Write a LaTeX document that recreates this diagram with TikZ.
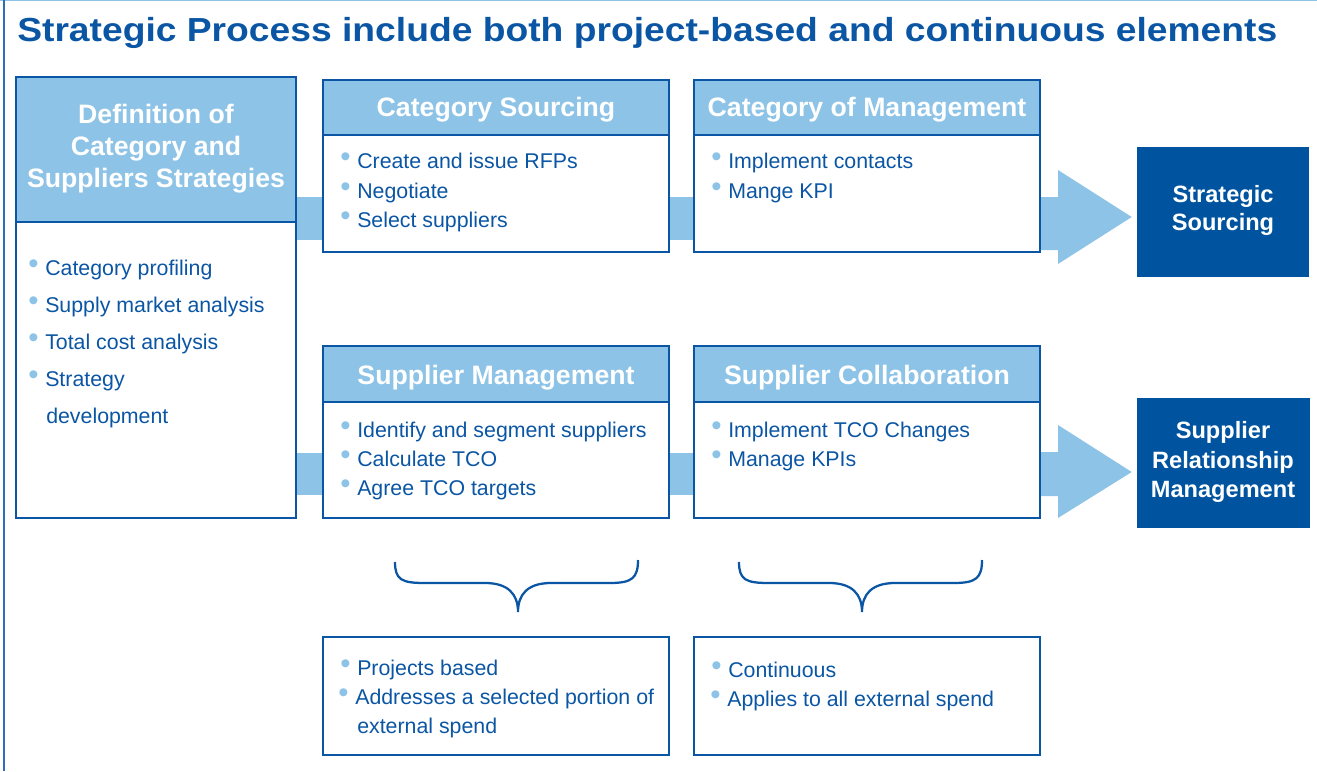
\documentclass[tikz,border=0pt]{standalone}
\usepackage{fontspec}
\setmainfont{Liberation Sans}
\usetikzlibrary{fit,calc}

\definecolor{dblue}{HTML}{0B56A4}
\definecolor{lblue}{HTML}{8DC3E6}
\definecolor{fblue}{HTML}{00549F}
\definecolor{mblue}{HTML}{2E6DB8}

% light-blue bullet hanging left of the item text
\newcommand\bl{\llap{\textcolor{lblue}{\fontsize{22}{22}\selectfont\raisebox{1.2pt}{•}}\hspace{5pt}}}

\tikzset{
  panel/.style={draw=dblue, line width=1.6pt, inner sep=0pt, fill=white},
  panelhead/.style={panel, fill=lblue},
  headtxt/.style={text=white, font=\bfseries\fontsize{20}{24}\selectfont, inner sep=0pt, anchor=base},
  item/.style={text=dblue, font=\fontsize{16}{19}\selectfont, inner sep=0pt, anchor=base west},
  goal/.style={fill=fblue, inner sep=0pt},
  goaltxt/.style={text=white, font=\bfseries\fontsize{17.7}{21}\selectfont, inner sep=0pt, anchor=base},
  link/.style={fill=lblue},
  brace/.style={draw=dblue, line width=1.7pt},
  titletxt/.style={text=dblue, font=\bfseries\fontsize{25}{30}\selectfont, inner sep=0pt, anchor=base west},
}

\begin{document}
\begin{tikzpicture}[x=0.75pt,y=-0.75pt]
\useasboundingbox (0,0) rectangle (1317,771);

% page frame
\draw[lblue, line width=0.8pt] (0,0.6) -- (1317,0.6);
\draw[mblue, line width=0.9pt] (4,0) -- (4,771);

% title
\node[titletxt] (title) at (17,41) {\scalebox{1.117}[1]{Strategic Process include both project-based and continuous elements}};

% panels
\node[panel, fit={(16,77) (296,518)}] (def) {};
\node[panelhead, fit={(16,77) (296,222)}] (defh) {};
\node[panel, fit={(323,80) (669,252)}] (cs) {};
\node[panelhead, fit={(323,80) (669,135)}] (csh) {};
\node[panel, fit={(694,80) (1040,252)}] (cm) {};
\node[panelhead, fit={(694,80) (1040,135)}] (cmh) {};
\node[panel, fit={(323,346) (669,518)}] (sm) {};
\node[panelhead, fit={(323,346) (669,402)}] (smh) {};
\node[panel, fit={(694,346) (1040,518)}] (sc) {};
\node[panelhead, fit={(694,346) (1040,402)}] (sch) {};
\node[panel, fit={(323,637) (669,755)}] (pb) {};
\node[panel, fit={(694,637) (1040,755)}] (ct) {};

% outcome boxes
\node[goal, fit={(1137,147) (1309,277)}] (ss) {};
\node[goal, fit={(1137,398) (1310,528)}] (srm) {};

% panel headings
\node[headtxt] (defh1) at (156,123) {Definition of};
\node[headtxt] (defh2) at (156,155) {Category and};
\node[headtxt] (defh3) at (156,187) {Suppliers Strategies};
\node[headtxt] (csht) at (496,116) {Category Sourcing};
\node[headtxt] (cmht) at (867,116) {Category of Management};
\node[headtxt] (smht) at (496,384) {Supplier Management};
\node[headtxt] (scht) at (867,384) {Supplier Collaboration};

% outcome labels
\node[goaltxt] (ss1) at (1223,202) {Strategic};
\node[goaltxt] (ss2) at (1223,230) {Sourcing};
\node[goaltxt] (srm1) at (1223,438) {Supplier};
\node[goaltxt] (srm2) at (1223,468) {Relationship};
\node[goaltxt] (srm3) at (1223,497) {Management};

% bullet lists
\node[item] (def1) at (45,275) {\bl Category profiling};
\node[item] (def2) at (45,312) {\bl Supply market analysis};
\node[item] (def3) at (45,349) {\bl Total cost analysis};
\node[item] (def4) at (45,386) {\bl Strategy};
\node[item] (def5) at (46,423) {development};

\node[item] (cs1) at (357,168) {\bl Create and issue RFPs};
\node[item] (cs2) at (357,198) {\bl Negotiate};
\node[item] (cs3) at (357,227) {\bl Select suppliers};

\node[item] (cm1) at (728,168) {\bl Implement contacts};
\node[item] (cm2) at (728,198) {\bl Mange KPI};

\node[item] (sm1) at (357,437) {\bl Identify and segment suppliers};
\node[item] (sm2) at (357,466) {\bl Calculate TCO};
\node[item] (sm3) at (357,495) {\bl Agree TCO targets};

\node[item] (sc1) at (728,437) {\bl Implement TCO Changes};
\node[item] (sc2) at (728,466) {\bl Manage KPIs};

\node[item] (pb1) at (357,675) {\bl Projects based};
\node[item] (pb2) at (355,704) {\bl Addresses a selected portion of};
\node[item] (pb3) at (357,733) {external spend};

\node[item] (ct1) at (728,677) {\bl Continuous};
\node[item] (ct2) at (727,706) {\bl Applies to all external spend};

% links between panels
\fill[link] (def.east |- 0,197) rectangle (cs.west |- 0,240);
\fill[link] (cs.east |- 0,197) rectangle (cm.west |- 0,240);
\fill[link] (def.east |- 0,453) rectangle (sm.west |- 0,495);
\fill[link] (sm.east |- 0,453) rectangle (sc.west |- 0,495);

% block arrows to the outcomes
\fill[link] (cm.east |- 0,197) -- (1058,197) -- (1058,170)
  -- ($(ss.west |- 0,217)+(-5,0)$) -- (1058,264) -- (1058,250)
  -- (cm.east |- 0,250) -- cycle;
\fill[link] (sc.east |- 0,452) -- (1058,452) -- (1058,425)
  -- ($(srm.west |- 0,472)+(-5,0)$) -- (1058,518) -- (1058,496)
  -- (sc.east |- 0,496) -- cycle;

% braces grouping the two columns
\foreach \dx in {0,344} {
  \draw[brace] ({395+\dx},562) .. controls ({395+\dx},580) and ({402+\dx},583) .. ({425+\dx},583)
    -- ({485+\dx},583) .. controls ({508+\dx},583) and ({518+\dx},594) .. ({518+\dx},612)
    .. controls ({518+\dx},594) and ({528+\dx},583) .. ({551+\dx},583)
    -- ({610+\dx},583) .. controls ({632+\dx},583) and ({638+\dx},578) .. ({638+\dx},560);
}
\end{tikzpicture}
\end{document}
